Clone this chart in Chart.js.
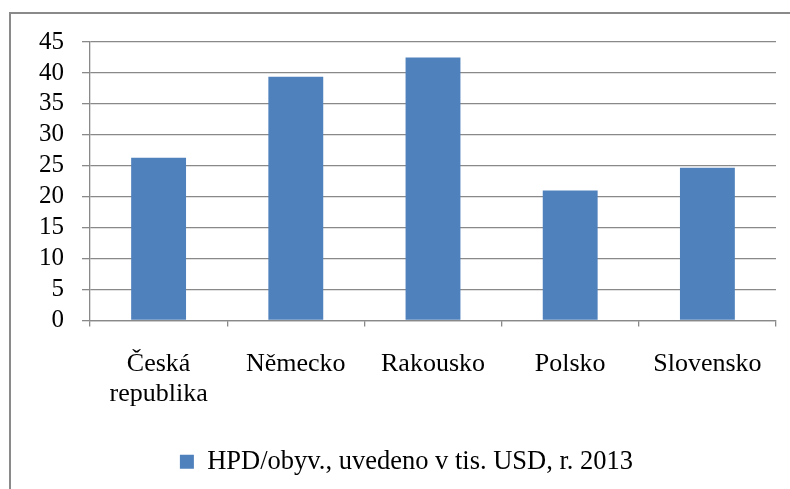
<!DOCTYPE html>
<html>
<head>
<meta charset="utf-8">
<script src="https://cdn.jsdelivr.net/npm/chart.js@4/dist/chart.umd.min.js"></script>
<style>
  html, body { margin: 0; padding: 0; background: #fff; }
  #wrap { width: 790px; height: 489px; position: relative; }
</style>
</head>
<body>
<div id="wrap"><canvas id="hpdChart" width="790" height="489"></canvas></div>
<script>
// data
const countries = [['Česká', 'republika'], 'Německo', 'Rakousko', 'Polsko', 'Slovensko'];
const hpdValues = [26.3, 39.4, 42.5, 21.0, 24.7];
const seriesLabel = 'HPD/obyv., uvedeno v tis. USD, r. 2013';

const gridGray = '#898989';
const barBlue = '#4F81BD';

// outer frame like the Excel chart border
const framePlugin = {
    id: 'frame',
    beforeDraw(chart) {
        const ctx = chart.ctx;
        ctx.save();
        ctx.fillStyle = '#fff';
        ctx.fillRect(0, 0, chart.width, chart.height);
        ctx.strokeStyle = '#8a8a8a';
        ctx.lineWidth = 2;
        ctx.strokeRect(10, 13, chart.width + 20, chart.height + 20);
        ctx.restore();
    }
};

Chart.defaults.font.family = '"Liberation Serif", "Times New Roman", serif';
Chart.defaults.color = '#000';

const ctx = document.getElementById('hpdChart').getContext('2d');
new Chart(ctx, {
    type: 'bar',
    data: {
        labels: countries,
        datasets: [{
            label: seriesLabel,
            data: hpdValues,
            backgroundColor: barBlue,
            borderWidth: 0,
            categoryPercentage: 1,
            barPercentage: 0.4
        }]
    },
    options: {
        responsive: false,
        animation: false,
        layout: { padding: { left: 37, right: 14, top: 42, bottom: 4 } },
        plugins: {
            legend: {
                position: 'bottom',
                labels: {
                    boxWidth: 14,
                    boxHeight: 14,
                    padding: 10,
                    color: '#000',
                    font: { size: 26.5 }
                }
            },
            tooltip: { enabled: false }
        },
        scales: {
            y: {
                min: 0,
                max: 45,
                ticks: { stepSize: 5, autoSkip: false, padding: 18, font: { size: 25 } },
                grid: { color: gridGray, lineWidth: 1.3, tickLength: 8 },
                border: { color: gridGray, width: 1.3 },
                afterFit(scale) { scale.width = 53; }
            },
            x: {
                ticks: { padding: 22, autoSkip: false, font: { size: 26, lineHeight: 1.18 }, maxRotation: 0 },
                grid: { drawOnChartArea: false, color: gridGray, lineWidth: 1.3, tickLength: 6 },
                border: { color: gridGray, width: 1.3 },
                afterFit(scale) { scale.height = 118; }
            }
        }
    },
    plugins: [framePlugin]
});
</script>
</body>
</html>
